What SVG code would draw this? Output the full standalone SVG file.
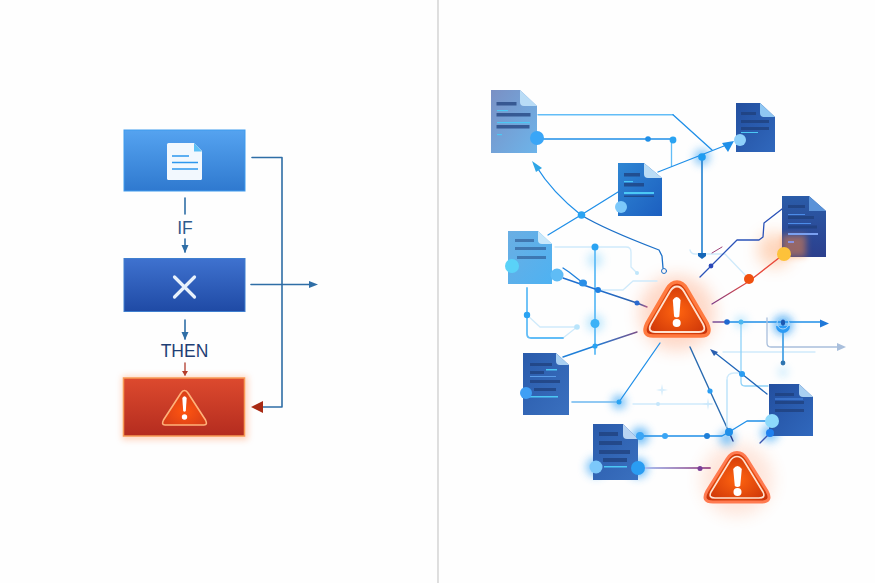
<svg xmlns="http://www.w3.org/2000/svg" width="875" height="583" viewBox="0 0 875 583">
<style>
.lbl{font-family:"Liberation Sans",Arial,sans-serif;font-size:17.5px}
.ln{fill:none;stroke-linecap:round;stroke-linejoin:round}
.m{stroke:#1f8fe8;stroke-width:1.3}
.t{stroke:#62bdf7;stroke-width:1.8}
.f{stroke:#cfeafb;stroke-width:1.3}
.d{stroke:#2f6ea6;stroke-width:1.6}
.bar{fill:#1f3f7a;opacity:.72}
.cy{fill:#4cc8f5}
.fold{fill:#b9dcf6}
.g{filter:url(#b3)}
</style>
<defs>
<linearGradient id="box1" x1="0" y1="0" x2="0" y2="1"><stop offset="0" stop-color="#55a3f0"/><stop offset="1" stop-color="#2f79cf"/></linearGradient>
<linearGradient id="box2" x1="0" y1="0" x2="0" y2="1"><stop offset="0" stop-color="#3f72cf"/><stop offset="1" stop-color="#1f4aa5"/></linearGradient>
<linearGradient id="box3" x1="0" y1="0" x2="0" y2="1"><stop offset="0" stop-color="#dd4a2e"/><stop offset="1" stop-color="#b42c1f"/></linearGradient>
<radialGradient id="wf" cx=".5" cy=".55" r=".6"><stop offset="0" stop-color="#ff6410"/><stop offset="1" stop-color="#c93208"/></radialGradient>
<radialGradient id="wi" cx=".5" cy=".6" r=".6"><stop offset="0" stop-color="#ff5510"/><stop offset="1" stop-color="#d63d18"/></radialGradient>
<linearGradient id="d1" x1="0" y1="0" x2="1" y2="1"><stop offset="0" stop-color="#7a90c4"/><stop offset="1" stop-color="#6db4ea"/></linearGradient>
<linearGradient id="d2" x1="0" y1="0" x2="1" y2="1"><stop offset="0" stop-color="#2f86d3"/><stop offset="1" stop-color="#1c5fc0"/></linearGradient>
<linearGradient id="d3" x1="0" y1="0" x2="1" y2="1"><stop offset="0" stop-color="#234f9f"/><stop offset="1" stop-color="#3068bd"/></linearGradient>
<linearGradient id="d4" x1="0" y1="0" x2="0" y2="1"><stop offset="0" stop-color="#2a5ca8"/><stop offset="1" stop-color="#2c3f8d"/></linearGradient>
<linearGradient id="d5" x1="0" y1="0" x2="1" y2="1"><stop offset="0" stop-color="#6aaee3"/><stop offset="1" stop-color="#4eb2f2"/></linearGradient>
<linearGradient id="dl" x1="0" y1="0" x2="1" y2="1"><stop offset="0" stop-color="#2a5bab"/><stop offset="1" stop-color="#3a70bf"/></linearGradient>
<linearGradient id="pu" gradientUnits="userSpaceOnUse" x1="645" y1="468" x2="710" y2="468"><stop offset="0" stop-color="#a8bdf0"/><stop offset="1" stop-color="#a4588f"/></linearGradient>
<linearGradient id="rd" gradientUnits="userSpaceOnUse" x1="748" y1="282" x2="712" y2="304"><stop offset="0" stop-color="#e8483a"/><stop offset="1" stop-color="#7b3a88"/></linearGradient>
<linearGradient id="fade" gradientUnits="userSpaceOnUse" x1="598" y1="290" x2="647" y2="307"><stop offset="0" stop-color="#1f6fd0"/><stop offset=".8" stop-color="#2c5ea8"/><stop offset="1" stop-color="#b05a88"/></linearGradient>
<linearGradient id="fade2" gradientUnits="userSpaceOnUse" x1="595" y1="346" x2="637" y2="332"><stop offset="0" stop-color="#1f7fd8"/><stop offset="1" stop-color="#7a4f88"/></linearGradient>
<filter id="b3" x="-100%" y="-100%" width="300%" height="300%"><feGaussianBlur stdDeviation="4"/></filter>
<filter id="b8" x="-50%" y="-50%" width="200%" height="200%"><feGaussianBlur stdDeviation="8"/></filter>
<filter id="b1" x="-50%" y="-50%" width="200%" height="200%"><feGaussianBlur stdDeviation="3"/></filter>
<marker id="ab" markerWidth="8" markerHeight="8" refX="7" refY="3.5" orient="auto" markerUnits="userSpaceOnUse"><path d="M0 0L8 3.500L0 7z" fill="#2f6ea6"/></marker>
</defs>
<rect width="875" height="583" fill="#fefefe"/>
<line x1="438" y1="0" x2="438" y2="583" stroke="#c9c9c9" stroke-width="1.200"/>

<g id="connectors-left" class="ln">
<path class="d" d="M185 198V214"/>
<path class="d" d="M185 239V252" marker-end="url(#ab)"/>
<path class="d" d="M185 320V339" marker-end="url(#ab)"/>
<path stroke="#b0392a" stroke-width="1.300" d="M185 363V375"/>
<path fill="#b0392a" stroke="none" d="M182 371H188L185 376z"/>
<path class="d" d="M252 157.500H282V407H262"/>
<path fill="#a82a14" stroke="none" d="M251 407L263 401V413z"/>
<path class="d" d="M251 284.500H310"/>
<path fill="#2f6ea6" stroke="none" d="M318 284.500L309 281V288z"/>
</g>
<text class="lbl" x="185" y="234" text-anchor="middle" fill="#2e5a8c">IF</text>
<text class="lbl" x="184.500" y="356.700" text-anchor="middle" fill="#1f3f75">THEN</text>

<g id="box-document">
<rect x="124" y="130" width="121" height="61" fill="url(#box1)" stroke="#3f9bee"/>
<path d="M168.500 143H194L202 151V178.500Q202 180 200.500 180H168.500Q167 180 167 178.500V144.500Q167 143 168.500 143z" fill="#f2f8fe"/>
<path d="M194 143L202 151.500H194z" fill="#5cc0f6"/>
<path d="M172 156H189M172 162.500H198M172 169H198" stroke="#2d97ee" stroke-width="1.700"/>
</g>
<g id="box-x">
<rect x="124" y="258.500" width="121" height="53" fill="url(#box2)" stroke="#3f7fcf"/>
<path d="M174.500 277L194.500 297M194.500 277L174.500 297" stroke="#e8f1fb" stroke-width="3.200" stroke-linecap="round"/>
</g>
<g id="box-alert">
<rect x="122" y="376" width="126" height="64" fill="#ff8a50" opacity=".35" filter="url(#b1)"/>
<rect x="123.500" y="378" width="121" height="58" fill="url(#box3)" stroke="#f79a55" stroke-width="1.500"/>
<path d="M184.500 390.500Q186.500 390.500 188 393L205.500 420Q208 425 204 425H165Q161 425 163.500 420L181 393Q182.500 390.500 184.500 390.500z" fill="url(#wi)" stroke="#ffb27a" stroke-width="1.600"/>
<path d="M182.300 398Q184.500 394.500 186.700 398L185.800 411Q184.500 412.500 183.200 411z" fill="#fff"/>
<circle cx="184.500" cy="417" r="2.700" fill="#fff"/>
</g>

<g id="glows">
<circle cx="677" cy="313" r="38" fill="#ff7a40" opacity=".28" filter="url(#b8)"/>
<circle cx="737" cy="480" r="36" fill="#ff7a40" opacity=".18" filter="url(#b8)"/>
<circle cx="595" cy="260" r="8" fill="#7fd0fb" opacity=".4" class="g"/>
<circle cx="595" cy="323" r="9" fill="#7fd0fb" opacity=".45" class="g"/>
<circle cx="619" cy="402" r="7" fill="#3aa5f5" opacity=".7" class="g"/>
<circle cx="640" cy="436" r="9" fill="#3aa5f5" opacity=".7" class="g"/>
<circle cx="702" cy="157" r="8" fill="#3aa5f5" opacity=".6" class="g"/>
<circle cx="783" cy="325" r="10" fill="#2c9bf5" opacity=".7" class="g"/>
<circle cx="727" cy="438" r="8" fill="#3aa5f5" opacity=".6" class="g"/>
<circle cx="638" cy="468" r="10" fill="#3aa5f5" opacity=".7" class="g"/>
<circle cx="596" cy="467" r="10" fill="#3aa5f5" opacity=".6" class="g"/>
<circle cx="770" cy="433" r="9" fill="#3aa5f5" opacity=".6" class="g"/>
<circle cx="741" cy="322" r="6" fill="#7fd0fb" opacity=".5" class="g"/>
<circle cx="783" cy="372" r="5" fill="#7fd0fb" opacity=".4" class="g"/>
<circle cx="775" cy="250" r="17" fill="#ff8a40" opacity=".35" filter="url(#b8)"/>
</g>

<g id="connectors" class="ln">
<path class="f" d="M690 250Q691 254 695 254H725L748 278"/>
<path class="f" d="M633 404H712M723 352H815"/>
<path class="f" d="M727 427V380Q727 373 734 373H742"/>
<path class="f" d="M563 338L577 327"/>
<path class="f" d="M527 315L540 327H577"/>
<path class="f" d="M598 290H623L633 281H657"/>
<path class="f" d="M555 247H626Q631 247 631 252V267L637 273"/>
<path class="t" style="stroke-width:1.400" d="M538 114.700H673"/>
<path class="m" d="M673 114.700L712 150"/>
<path class="m" d="M537 139H672"/>
<path class="t" style="stroke-width:1.300" d="M671.500 140V166"/>
<path class="m" d="M658 172L724 146"/>
<path fill="#1f8fe8" stroke="none" d="M734 141L722 143L728 152z"/>
<path style="stroke:#1f7fd0;stroke-width:1.600" d="M702 157V253"/>
<path fill="#1667b8" stroke="none" d="M698 253H706V256L702 259L698 256z"/>
<path class="m" d="M618 192L581 215L548 235"/>
<path class="m" d="M581 215Q552 192 536 166"/>
<path fill="#2fa6e6" stroke="none" d="M532 161L542 168L536 172z"/>
<path stroke="#1c70c8" stroke-width="1.300" d="M581 215Q604 229 659 250L662 256L663 268"/>
<circle cx="664" cy="271" r="2.500" fill="none" stroke="#1f70c8"/>
<path class="t" d="M595 245V354"/>
<path stroke="#1f80dc" stroke-width="1.300" d="M563 268L569 272L583 283"/>
<path stroke="url(#fade)" stroke-width="1.400" d="M563 278L598 290L637 303L647 307"/>
<path class="t" d="M527 288V334Q527 338 531 338H563"/>
<path stroke="url(#fade2)" stroke-width="1.400" d="M563 357L595 346L637 332"/>
<path style="stroke:#6db8ef;stroke-width:1.600" d="M572 402H619"/>
<path class="m" d="M619 402L660 343"/>
<path stroke="#2a6bb0" stroke-width="1.400" d="M690 347L710 391L729 432"/>
<path stroke="#263e8e" stroke-width="1.400" d="M729 432L733 441"/>
<path class="m" d="M640 436H722L729 432L747 421H767"/>
<path stroke="url(#pu)" stroke-width="1.800" d="M645 468H710"/>
<path class="m" d="M727 322H822"/>
<path stroke="#7a4f98" stroke-width="1.300" d="M713 322H727"/>
<path fill="#1f78d8" stroke="none" d="M829 323.500L820 319.500V327.500z"/>
<path stroke="#a9bfdc" stroke-width="1.300" d="M767 318V343Q767 347 771 347H838"/>
<path fill="#a9bfdc" stroke="none" d="M846 347L837 343V351z"/>
<path style="stroke:#4aa3e6;stroke-width:1.800" d="M783 323V363"/>
<path class="t" style="stroke-width:1.300;stroke:#8fd2f8" d="M741 322V382Q741 386 745 386H768"/>
<path stroke="#1f65b8" stroke-width="1.300" d="M714 352L742 374L767 394"/>
<path fill="#2a5fb0" stroke="none" d="M710 349L718 352L714 356z"/>
<path stroke="#c4e6fb" stroke-width="1.300" d="M727 380V427"/>
<path stroke="#3a55b0" stroke-width="1.300" d="M770 433L760 443"/>
<path stroke="url(#rd)" stroke-width="1.300" d="M784 254L748 282L712 304"/>
<path stroke="#2a52b8" stroke-width="1.300" d="M782 209L764 223L763 237L759 240H737L700 277"/>
<path stroke="#a04078" stroke-width="1" d="M712 253L722 247"/>
<path fill="#c4e6fb" stroke="none" d="M662 384l1 5 5 1-5 1-1 5-1-5-5-1 5-1zM708 398l1 5 5 1-5 1-1 5-1-5-5-1 5-1z" opacity=".7"/>
<circle cx="648" cy="139" r="2.800" fill="#1f8fe8"/>
<circle cx="673" cy="140" r="3.400" fill="#2aa3f2"/>
<circle cx="702" cy="157" r="3.800" fill="#1f9cf0"/>
<circle cx="581.500" cy="215" r="3.800" fill="#2aa3f2"/>
<circle cx="595" cy="247" r="3.500" fill="#2aa3f2"/>
<circle cx="637" cy="273" r="2" fill="#bfe6fb"/>
<ellipse cx="583" cy="283" rx="4" ry="3.500" fill="#2a8fe8"/>
<circle cx="598" cy="290" r="3" fill="#1f7fe0"/>
<circle cx="637" cy="303" r="2.500" fill="#2a6ad0"/>
<circle cx="595" cy="323.500" r="4.500" fill="#3cb2f7"/>
<circle cx="595" cy="346" r="2.600" fill="#2aa3f2"/>
<circle cx="527" cy="315" r="3.200" fill="#2aa3f2"/>
<circle cx="577" cy="327" r="2.800" fill="#b8e4fb"/>
<circle cx="619" cy="402" r="2.500" fill="#2aa3f2"/>
<circle cx="658" cy="404" r="2" fill="#c4e6fb"/>
<circle cx="710" cy="391" r="2.600" fill="#2a9df2"/>
<circle cx="665" cy="436" r="3" fill="#3aa5f5"/>
<circle cx="707" cy="436" r="3" fill="#1f7fd8"/>
<circle cx="729" cy="432" r="4" fill="#1f8fe8"/>
<circle cx="700" cy="468.500" r="2.500" fill="#7a3f98"/>
<circle cx="727" cy="322" r="2.800" fill="#1f68d0"/>
<circle cx="741" cy="322" r="2.500" fill="#4cb8f0"/>
<circle cx="742" cy="374" r="3" fill="#2a9df2"/>
<circle cx="783" cy="363" r="2.400" fill="#2f75b0"/>
<path d="M776 326A7 7 0 0 0 790 326z" fill="#2c9bf5"/>
<circle cx="783" cy="323" r="6" fill="none" stroke="#a9d8f8"/>
<rect x="781" y="319.500" width="4" height="6" rx="2" fill="#1c58b0"/>
<circle cx="711" cy="266" r="2.400" fill="#2a48b8"/>
<circle cx="749" cy="279" r="5" fill="#f0500f"/>
</g>

<g id="doc-1">
<path d="M491 90H520L537 106V153H491z" fill="url(#d1)"/>
<path d="M520 90L537 106H524Q520 106 520 102z" class="fold"/>
<rect class="bar" x="496.500" y="102" width="20" height="3.500"/><rect class="bar" x="496.500" y="113" width="34" height="3.500"/><rect class="bar" x="496.500" y="125" width="33" height="3.500"/>
<rect class="cy" x="497" y="110" width="11" height="1.200"/><rect class="cy" x="497" y="122" width="33" height="1.200"/><rect class="cy" x="497" y="134" width="5" height="1.200"/>
<circle cx="537" cy="138" r="7" fill="#3aa6f7"/>
</g>
<g id="doc-2">
<path d="M618 163H644L662 178V216H618z" fill="url(#d2)"/>
<path d="M644 163L662 178H648Q644 178 644 174z" class="fold"/>
<rect class="bar" x="624" y="173" width="16" height="3.500"/><rect class="bar" x="624" y="183" width="20" height="3.500"/><rect class="bar" x="624" y="195.500" width="30" height="1.500"/>
<rect class="cy" x="624" y="181" width="9" height="1.200"/><rect class="cy" x="624" y="192" width="30" height="2"/>
<circle cx="621" cy="207" r="6" fill="#7cc8fa"/>
</g>
<g id="doc-3">
<path d="M736 103H760L775 117V152H736z" fill="url(#d3)"/>
<path d="M760 103L775 117H764Q760 117 760 113z" class="fold" style="fill:#8fc6f2"/>
<rect class="bar" x="741" y="112" width="15" height="3"/><rect class="bar" x="741" y="120" width="28" height="3"/><rect class="bar" x="741" y="127" width="28" height="3"/>
<rect class="cy" x="741" y="132" width="17" height="1"/>
<circle cx="740" cy="140" r="6" fill="#8ed0fb"/>
</g>
<g id="doc-4">
<path d="M782 196H809L826 211V257H782z" fill="url(#d4)"/>
<path d="M782 235H806V257H782z" fill="#ff8a40" opacity=".5" filter="url(#b1)"/>
<path d="M809 196L826 211H809z" fill="#5a92d8"/>
<rect class="bar" x="788" y="205" width="17" height="3"/><rect class="bar" x="788" y="216" width="26" height="3"/><rect class="bar" x="788" y="225.500" width="29" height="3"/>
<rect x="788" y="214" width="17" height="1" fill="#4c8ce8"/><rect x="788" y="223" width="23" height="1" fill="#4c8ce8"/><rect x="788" y="233" width="30" height="2" fill="#7aa0f0"/><rect x="788" y="241" width="6" height="2" fill="#8a92e0"/>
<circle cx="784" cy="254" r="7" fill="#fdc23a"/>
</g>
<g id="doc-5">
<path d="M508 231H538L552 244V284H508z" fill="url(#d5)"/>
<path d="M538 231L552 244H542Q538 244 538 240z" class="fold" style="fill:#c8e8fb"/>
<rect class="bar" x="515" y="239" width="19" height="3" style="opacity:.5"/><rect class="bar" x="515" y="247" width="31" height="3" style="opacity:.5"/><rect class="bar" x="517" y="256" width="29" height="3" style="opacity:.5"/>
<circle cx="512" cy="266" r="7" fill="#5ad2f8"/>
<circle cx="557" cy="275" r="6.500" fill="#5fbcf5"/>
</g>
<g id="doc-6">
<path d="M523 353H556L569 365V415H523z" fill="url(#dl)"/>
<path d="M556 353L569 365H560Q556 365 556 361z" class="fold" style="fill:#a9d0f2"/>
<rect class="bar" x="530" y="363" width="22" height="3"/><rect class="bar" x="530" y="371" width="14" height="3"/><rect class="bar" x="530" y="380" width="30" height="3"/><rect class="bar" x="534" y="388" width="22" height="3"/>
<rect class="cy" x="546" y="369" width="11" height="1.500"/><rect class="cy" x="530" y="396" width="28" height="1.500"/><rect x="530" y="376" width="26" height="1" fill="#5a9ce8"/>
<circle cx="526" cy="393" r="6" fill="#3f9ff5"/>
</g>
<g id="doc-7">
<path d="M769 384H799L813 397V436H769z" fill="url(#d3)"/>
<path d="M799 384L813 397H803Q799 397 799 393z" class="fold" style="fill:#a9d0f2"/>
<rect class="bar" x="775" y="393" width="19" height="3"/><rect class="bar" x="775" y="401" width="29" height="3"/><rect class="bar" x="775" y="409" width="29" height="3"/>
<rect x="775" y="398.500" width="28" height="1" fill="#4c8ce8"/>
<circle cx="770" cy="433" r="4" fill="#1f80f0"/>
<circle cx="772" cy="421" r="7" fill="#8edafb"/>
</g>
<g id="doc-8">
<path d="M593 424H623L638 439V480H593z" fill="url(#dl)"/>
<path d="M623 424L638 439H627Q623 439 623 435z" class="fold" style="fill:#b9d4f2"/>
<rect class="bar" x="599" y="432" width="19" height="4"/><rect class="bar" x="599" y="441" width="23" height="4"/><rect class="bar" x="599" y="450" width="31" height="4"/><rect class="bar" x="603" y="458" width="24" height="4"/>
<rect class="cy" x="604" y="466" width="23" height="1.500"/>
<circle cx="640" cy="436" r="4" fill="#3aa5f5"/>
<circle cx="596" cy="467" r="6.500" fill="#7cc8fa"/>
<circle cx="638" cy="468" r="7" fill="#2a9df2"/>
</g>
<g id="alert-1">
<path d="M677 282Q683 282 687 289L707 323Q713 336 701 336H653Q641 336 647 323L667 289Q671 282 677 282z" fill="url(#wf)" stroke="#ff7a40" stroke-width="3.500"/>
<path d="M677 286.500Q681 286.500 684 291.500L703 324Q707 332 699 332H655Q647 332 651 324L670 291.500Q673 286.500 677 286.500z" fill="none" stroke="#ffe2d0" stroke-width="1.800"/>
<path d="M672.800 300Q676.700 294 680.600 300L679.300 316.500Q676.700 318.500 674.100 316.500z" fill="#fff"/>
<circle cx="676.700" cy="323" r="4" fill="#fff"/>
</g>
<g id="alert-2">
<path d="M737 452.500Q743 452.500 747 459L767 491Q773 502 761 502H713Q701 502 707 491L727 459Q731 452.500 737 452.500z" fill="url(#wf)" stroke="#ff7a50" stroke-width="3"/>
<path d="M737 456.500Q741 456.500 744 461L763 492Q766 498 759 498H715Q708 498 711 492L730 461Q733 456.500 737 456.500z" fill="none" stroke="#ffe2d0" stroke-width="1.600"/>
<path d="M733.200 469Q737.500 463 741.800 469L740.200 486Q737.500 488 734.800 486z" fill="#fff"/>
<circle cx="737.500" cy="492" r="4" fill="#fff"/>
</g>
</svg>
